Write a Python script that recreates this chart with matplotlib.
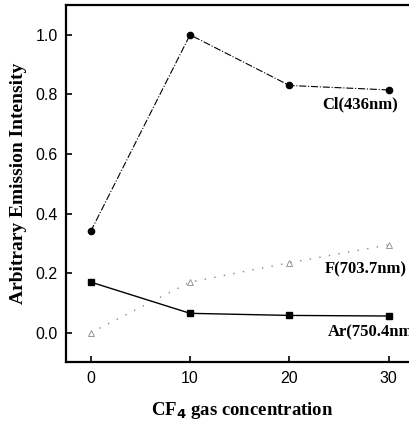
import matplotlib
matplotlib.use("Agg")
import matplotlib.pyplot as plt

# CF4 concentration and normalised intensities
conc = [0, 10, 20, 30]
cl_436 = [0.34, 1.0, 0.83, 0.815]
f_703 = [0.0, 0.17, 0.235, 0.295]
ar_750 = [0.17, 0.065, 0.058, 0.056]

xticks = [0, 10, 20, 30]
yticks = [0.0, 0.2, 0.4, 0.6, 0.8, 1.0]

serif = "Liberation Serif"
sans = "Liberation Sans"

fig = plt.figure(figsize=(4.09, 4.21), dpi=100)
# right edge of the axes runs past the picture, as in the scanned original
ax = fig.add_axes([0.161, 0.139, 0.86, 0.849])

# Cl line: dash-dot, black circles
ax.plot(conc, cl_436, color="black", linestyle="-.", linewidth=0.8,
        marker="o", markersize=4.5)
# F line: sparse dotted, open triangles in grey
ax.plot(conc, f_703, color="#888888", linestyle=(0, (1, 6)), linewidth=1.0,
        marker="^", markersize=4, markerfacecolor="white",
        markeredgecolor="#888888", markeredgewidth=0.6)
# Ar line: solid, black squares
ax.plot(conc, ar_750, color="black", linestyle="-", linewidth=1.0,
        marker="s", markersize=5)

ax.text(30.9, 0.768, "Cl(436nm)", fontfamily=serif, fontweight="bold",
        fontsize=12, ha="right", va="center")
ax.text(31.8, 0.211, "F(703.7nm)", fontfamily=serif, fontweight="bold",
        fontsize=12, ha="right", va="center")
ax.text(23.9, 0.0, "Ar(750.4nm)", fontfamily=serif, fontweight="bold",
        fontsize=12, ha="left", va="center")

ax.set_xlim(-2.5, 32.9)
ax.set_ylim(-0.1, 1.1)
ax.set_xticks(xticks)
ax.set_yticks(yticks)
ax.set_xticklabels([str(t) for t in xticks], fontfamily=sans, fontsize=11.5)
ax.set_yticklabels(["%.1f" % t for t in yticks], fontfamily=sans, fontsize=11.5)
ax.tick_params(direction="in", length=4, width=1.2, pad=6)

for s in ax.spines.values():
    s.set_linewidth(1.6)

ax.set_xlabel("CF$_\\mathbf{4}$ gas concentration", fontfamily=serif,
              fontweight="bold", fontsize=13.5, labelpad=10)
ax.set_ylabel("Arbitrary Emission Intensity", fontfamily=serif,
              fontweight="bold", fontsize=14, labelpad=6)

fig.savefig("out.png", dpi=100)
